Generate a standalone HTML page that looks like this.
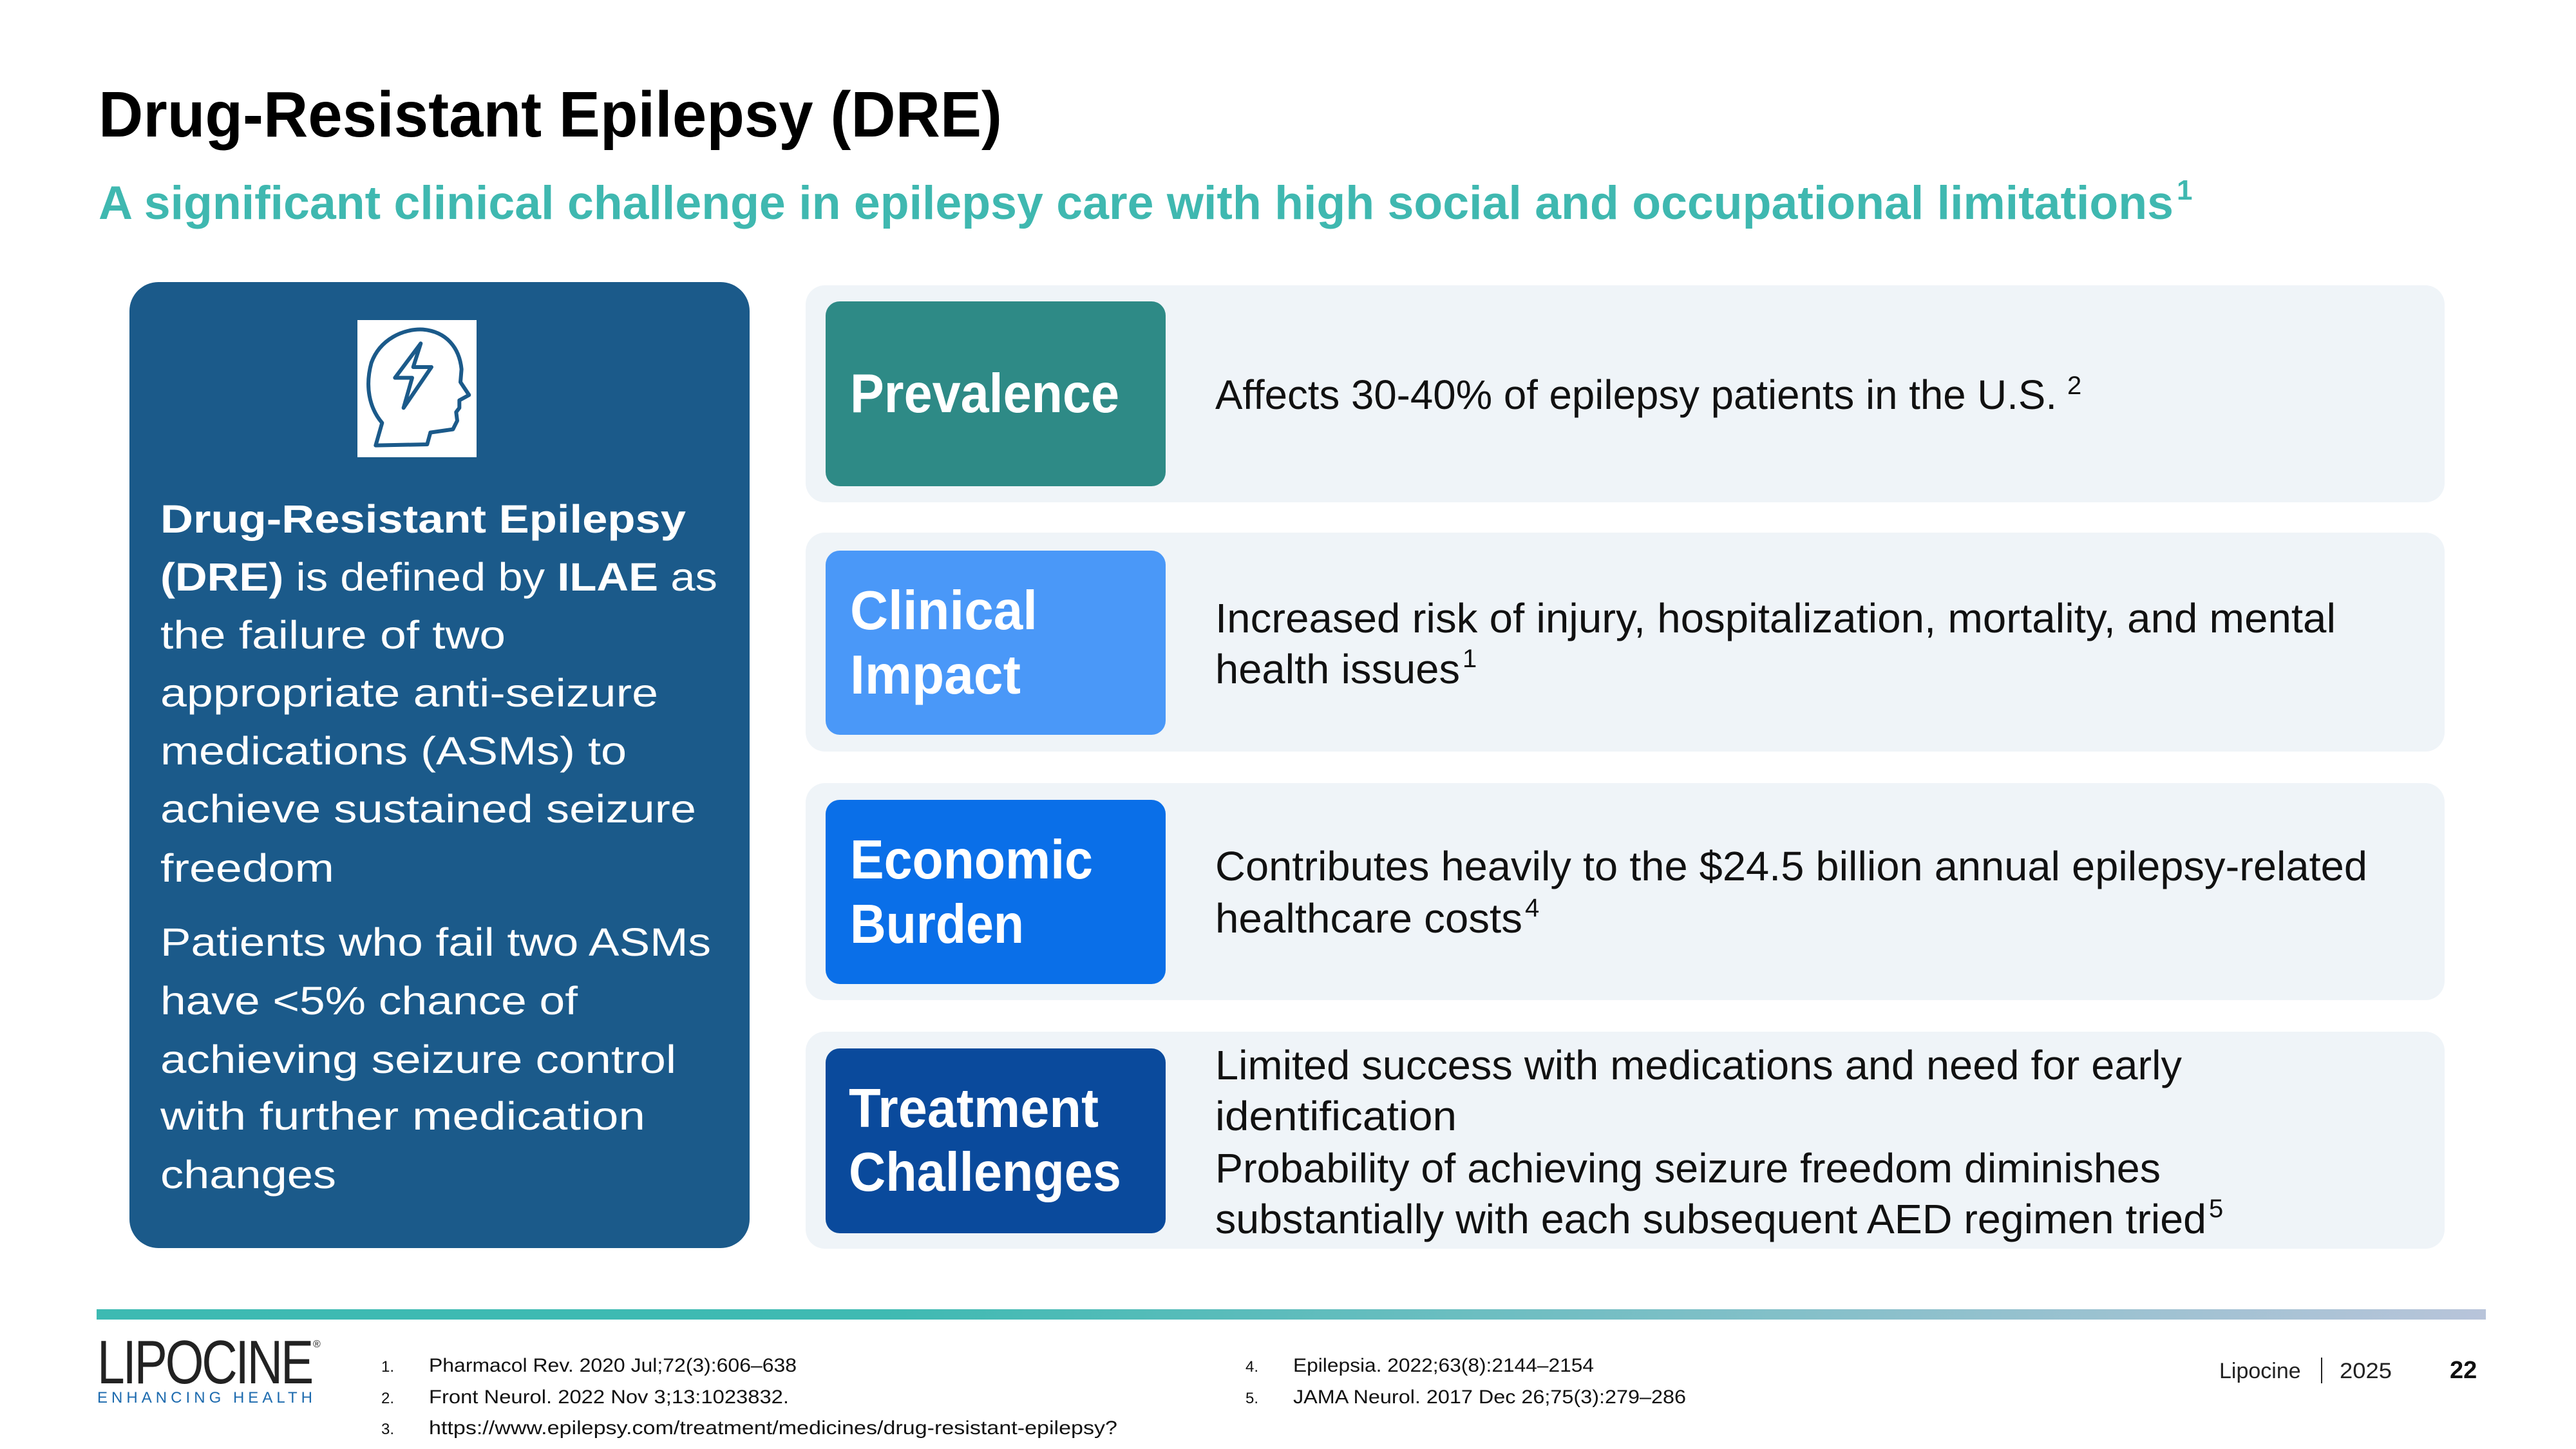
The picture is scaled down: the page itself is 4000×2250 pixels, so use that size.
<!DOCTYPE html>
<html><head><meta charset="utf-8"><style>
html,body{margin:0;padding:0;background:#fff}
svg{display:block}
text{font-family:"Liberation Sans",sans-serif}
</style></head><body>
<svg width="4000" height="2250" viewBox="0 0 4000 2250" xmlns="http://www.w3.org/2000/svg">
<defs>
<linearGradient id="fg" x1="0" x2="1" y1="0" y2="0">
<stop offset="0" stop-color="#3dbab2"/><stop offset="0.33" stop-color="#3fbab2"/><stop offset="1" stop-color="#b8c4da"/>
</linearGradient>
</defs>
<text x="153" y="212" font-size="100" font-weight="bold" fill="#000" textLength="1403" lengthAdjust="spacingAndGlyphs">Drug-Resistant Epilepsy (DRE)</text>
<text x="153" y="340" font-size="73" font-weight="bold" fill="#3fb8b0" textLength="3222" lengthAdjust="spacingAndGlyphs">A significant clinical challenge in epilepsy care with high social and occupational limitations</text>
<text x="3380" y="310" font-size="44" font-weight="bold" fill="#3fb8b0">1</text>

<g>
<rect x="201" y="438" width="963" height="1500" rx="45" fill="#1b5a8a"/>
<rect x="555" y="497" width="185" height="213" fill="#fff"/>
<g transform="translate(540,490) scale(0.3333)" fill="none" stroke="#1b5a8a" stroke-width="18" stroke-linejoin="round">
<path d="M130,605 L160,500 C100,430 80,330 110,220 C150,110 260,60 350,65 C460,75 520,150 530,250 L525,310 L565,370 L520,395 L520,430 L505,450 L510,490 L490,530 L385,545 L370,600 Z"/>
<path d="M340,130 L220,290 L300,290 L260,430 L390,240 L305,240 Z"/>
</g>
<g fill="#fff" font-size="61">
<text x="249" y="827" font-weight="bold" textLength="816" lengthAdjust="spacingAndGlyphs">Drug-Resistant Epilepsy</text>
<text x="249" y="917" textLength="865" lengthAdjust="spacingAndGlyphs"><tspan font-weight="bold">(DRE)</tspan> is defined by <tspan font-weight="bold">ILAE</tspan> as</text>
<text x="249" y="1007" textLength="536" lengthAdjust="spacingAndGlyphs">the failure of two</text>
<text x="249" y="1097" textLength="773" lengthAdjust="spacingAndGlyphs">appropriate anti-seizure</text>
<text x="249" y="1187" textLength="724" lengthAdjust="spacingAndGlyphs">medications (ASMs) to</text>
<text x="249" y="1277" textLength="832" lengthAdjust="spacingAndGlyphs">achieve sustained seizure</text>
<text x="249" y="1369" textLength="270" lengthAdjust="spacingAndGlyphs">freedom</text>
<text x="249" y="1484" textLength="855" lengthAdjust="spacingAndGlyphs">Patients who fail two ASMs</text>
<text x="249" y="1575" textLength="648" lengthAdjust="spacingAndGlyphs">have &lt;5% chance of</text>
<text x="249" y="1666" textLength="801" lengthAdjust="spacingAndGlyphs">achieving seizure control</text>
<text x="249" y="1754" textLength="753" lengthAdjust="spacingAndGlyphs">with further medication</text>
<text x="249" y="1845" textLength="273" lengthAdjust="spacingAndGlyphs">changes</text>
</g>
</g>

<g>
<rect x="1251" y="443" width="2545" height="337" rx="30" fill="#eff4f8"/>
<rect x="1282" y="468" width="528" height="287" rx="22" fill="#2e8a86"/>
<text x="1320" y="640" font-size="85" font-weight="bold" fill="#fff" textLength="418" lengthAdjust="spacingAndGlyphs">Prevalence</text>
<text x="1887" y="635" font-size="64" fill="#111" textLength="1307" lengthAdjust="spacingAndGlyphs">Affects 30-40% of epilepsy patients in the U.S.</text>
<text x="3210" y="612" font-size="40" fill="#111">2</text>
</g>

<g>
<rect x="1251" y="827" width="2545" height="340" rx="30" fill="#eff4f8"/>
<rect x="1282" y="855" width="528" height="286" rx="22" fill="#4a98f8"/>
<text x="1320" y="977" font-size="85" font-weight="bold" fill="#fff" textLength="291" lengthAdjust="spacingAndGlyphs">Clinical</text>
<text x="1320" y="1077" font-size="85" font-weight="bold" fill="#fff" textLength="265" lengthAdjust="spacingAndGlyphs">Impact</text>
<text x="1887" y="982" font-size="64" fill="#111" textLength="1740" lengthAdjust="spacingAndGlyphs">Increased risk of injury, hospitalization, mortality, and mental</text>
<text x="1887" y="1061" font-size="64" fill="#111" textLength="380" lengthAdjust="spacingAndGlyphs">health issues</text>
<text x="2271" y="1036" font-size="40" fill="#111">1</text>
</g>

<g>
<rect x="1251" y="1216" width="2545" height="337" rx="30" fill="#eff4f8"/>
<rect x="1282" y="1242" width="528" height="286" rx="22" fill="#0a6fe8"/>
<text x="1320" y="1364" font-size="85" font-weight="bold" fill="#fff" textLength="377" lengthAdjust="spacingAndGlyphs">Economic</text>
<text x="1320" y="1464" font-size="85" font-weight="bold" fill="#fff" textLength="270" lengthAdjust="spacingAndGlyphs">Burden</text>
<text x="1887" y="1367" font-size="64" fill="#111" textLength="1789" lengthAdjust="spacingAndGlyphs">Contributes heavily to the $24.5 billion annual epilepsy-related</text>
<text x="1887" y="1448" font-size="64" fill="#111" textLength="477" lengthAdjust="spacingAndGlyphs">healthcare costs</text>
<text x="2368" y="1423" font-size="40" fill="#111">4</text>
</g>

<g>
<rect x="1251" y="1602" width="2545" height="337" rx="30" fill="#eff4f8"/>
<rect x="1282" y="1628" width="528" height="287" rx="22" fill="#0a4a9c"/>
<text x="1318" y="1750" font-size="85" font-weight="bold" fill="#fff" textLength="388" lengthAdjust="spacingAndGlyphs">Treatment</text>
<text x="1318" y="1849" font-size="85" font-weight="bold" fill="#fff" textLength="423" lengthAdjust="spacingAndGlyphs">Challenges</text>
<text x="1887" y="1676" font-size="64" fill="#111" textLength="1501" lengthAdjust="spacingAndGlyphs">Limited success with medications and need for early</text>
<text x="1887" y="1755" font-size="64" fill="#111" textLength="375" lengthAdjust="spacingAndGlyphs">identification</text>
<text x="1887" y="1836" font-size="64" fill="#111" textLength="1468" lengthAdjust="spacingAndGlyphs">Probability of achieving seizure freedom diminishes</text>
<text x="1887" y="1915" font-size="64" fill="#111" textLength="1539" lengthAdjust="spacingAndGlyphs">substantially with each subsequent AED regimen tried</text>
<text x="3430" y="1890" font-size="40" fill="#111">5</text>
</g>

<rect x="150" y="2033" width="3710" height="16" fill="url(#fg)"/>

<g>
<text x="151" y="2148" font-size="96" fill="#222" textLength="333" lengthAdjust="spacingAndGlyphs" letter-spacing="-4">LIPOCINE</text>
<text x="486" y="2092" font-size="16" fill="#222">®</text>
<text x="151" y="2178" font-size="24" fill="#1c6aae" textLength="334" lengthAdjust="spacing">ENHANCING HEALTH</text>
</g>

<g font-size="30" fill="#111">
<text x="592" y="2130" font-size="24">1.</text>
<text x="666" y="2130" textLength="571" lengthAdjust="spacingAndGlyphs">Pharmacol Rev. 2020 Jul;72(3):606–638</text>
<text x="592" y="2179" font-size="24">2.</text>
<text x="666" y="2179" textLength="559" lengthAdjust="spacingAndGlyphs">Front Neurol. 2022 Nov 3;13:1023832.</text>
<text x="592" y="2227" font-size="24">3.</text>
<text x="666" y="2227" textLength="1069" lengthAdjust="spacingAndGlyphs">https://www.epilepsy.com/treatment/medicines/drug-resistant-epilepsy?</text>
<text x="1934" y="2130" font-size="24">4.</text>
<text x="2008" y="2130" textLength="467" lengthAdjust="spacingAndGlyphs">Epilepsia. 2022;63(8):2144–2154</text>
<text x="1934" y="2179" font-size="24">5.</text>
<text x="2008" y="2179" textLength="610" lengthAdjust="spacingAndGlyphs">JAMA Neurol. 2017 Dec 26;75(3):279–286</text>
</g>

<text x="3446" y="2140" font-size="34" fill="#222">Lipocine</text>
<rect x="3604" y="2108" width="2" height="40" fill="#222"/>
<text x="3633" y="2140" font-size="34" fill="#222" textLength="81" lengthAdjust="spacingAndGlyphs">2025</text>
<text x="3804" y="2140" font-size="38" font-weight="bold" fill="#111">22</text>
</svg>
</body></html>
